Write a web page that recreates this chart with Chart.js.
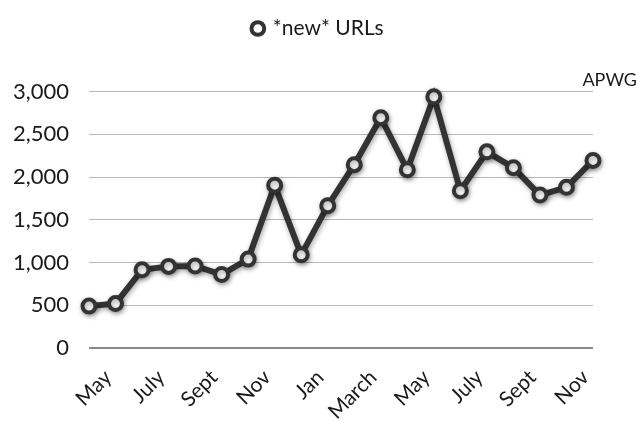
<!DOCTYPE html>
<html>
<head>
<meta charset="utf-8">
<script src="https://cdn.jsdelivr.net/npm/chart.js@4"></script>
<style>
html,body{margin:0;padding:0;background:#ffffff;}
#wrap{width:637px;height:421px;position:relative;}
</style>
</head>
<body>
<div id="wrap"><canvas id="c" width="637" height="421"></canvas></div>
<script>
const categories = ['May','June','July','Aug','Sept','Oct','Nov','Dec','Jan','Feb','March','April','May','June','July','Aug','Sept','Oct','Nov','Dec'];
const newUrls = [490, 520, 915, 955, 960, 860, 1040, 1905, 1090, 1665, 2145, 2695, 2085, 2940, 1840, 2295, 2110, 1790, 1880, 2195];
const seriesName = '*new* URLs';
const sourceLabel = 'APWG';
const yTicks = [0, 500, 1000, 1500, 2000, 2500, 3000];

const FONT = 'Lato, "Open Sans", sans-serif';

const shadowPlugin = {
  id: 'lineShadow',
  beforeDatasetDraw(chart) {
    const ctx = chart.ctx;
    ctx.save();
    ctx.shadowColor = 'rgba(0,0,0,0.35)';
    ctx.shadowBlur = 5;
    ctx.shadowOffsetX = 1;
    ctx.shadowOffsetY = 2;
  },
  afterDatasetDraw(chart) {
    chart.ctx.restore();
  }
};

new Chart(document.getElementById('c'), {
  type: 'line',
  data: {
    labels: categories,
    datasets: [{
      label: seriesName,
      data: newUrls,
      borderColor: '#333333',
      borderWidth: 6,
      pointRadius: 6.5,
      pointHoverRadius: 6.5,
      pointBackgroundColor: '#ffffff',
      pointBorderColor: '#333333',
      pointBorderWidth: 4,
      tension: 0,
      fill: false,
      clip: false
    }]
  },
  options: {
    responsive: false,
    animation: false,
    devicePixelRatio: 1,
    layout: { padding: { left: 0, right: 0, top: 6, bottom: 0 } },
    plugins: {
      legend: {
        display: true,
        position: 'top',
        align: 'center',
        weight: 3000,
        labels: {
          usePointStyle: true,
          boxHeight: 9,
          boxWidth: 9,
          padding: 12,
          color: '#1a1a1a',
          font: { family: FONT, size: 21 }
        }
      },
      title: {
        display: true,
        text: sourceLabel,
        position: 'top',
        align: 'end',
        weight: 1000,
        color: '#1a1a1a',
        font: { family: FONT, size: 18, weight: 'normal' },
        padding: { top: 20, bottom: 1 }
      },
      tooltip: { enabled: false }
    },
    scales: {
      x: {
        offset: false,
        grid: { display: false },
        border: { display: false },
        ticks: {
          autoSkip: false,
          minRotation: 45,
          maxRotation: 45,
          labelOffset: 19,
          padding: 9,
          color: '#1a1a1a',
          font: { family: FONT, size: 21 },
          callback: function(value, index) {
            return index % 2 === 0 ? categories[index] : '';
          }
        },
        afterFit: function(scale) { scale.height = 73; }
      },
      y: {
        min: 0,
        max: 3000,
        afterBuildTicks: function(scale) {
          scale.ticks = yTicks.map(v => ({ value: v }));
        },
        grid: {
          drawTicks: false,
          color: function(ctx) { return ctx.tick && ctx.tick.value === 0 ? '#8a8a8a' : '#b8b8b8'; },
          lineWidth: function(ctx) { return ctx.tick && ctx.tick.value === 0 ? 2 : 1; }
        },
        border: { display: false },
        ticks: {
          padding: 20,
          color: '#1a1a1a',
          font: { family: FONT, size: 22 }
        },
        afterFit: function(scale) { scale.width = 89; }
      },
      yRightSpace: {
        position: 'right',
        display: true,
        grid: { display: false, drawTicks: false },
        border: { display: false },
        ticks: { display: false },
        afterFit: function(scale) { scale.width = 44; }
      }
    }
  },
  plugins: [shadowPlugin]
});
</script>
</body>
</html>
